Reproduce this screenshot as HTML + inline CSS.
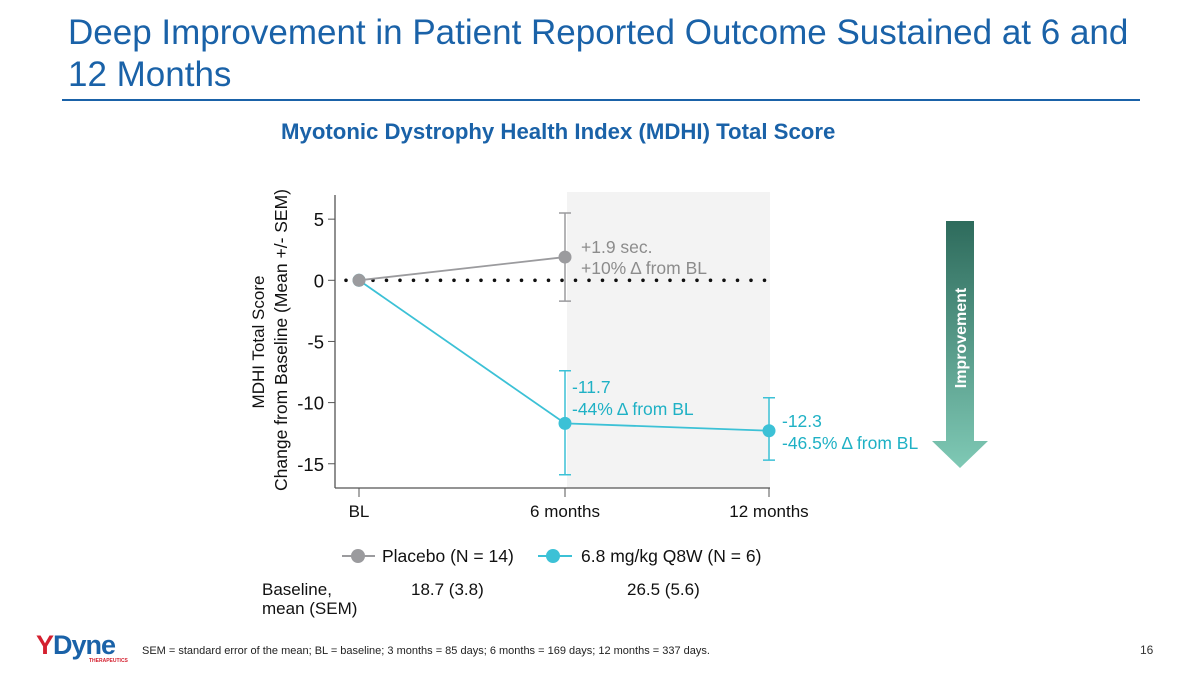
<!DOCTYPE html>
<html><head><meta charset="utf-8">
<style>
body{margin:0;width:1200px;height:675px;background:#fff;font-family:"Liberation Sans",sans-serif;overflow:hidden;position:relative}
.t{position:absolute;white-space:nowrap}
</style></head><body>
<div class="t" style="left:68px;top:12px;font-size:35px;line-height:42px;color:#1a62a8">Deep Improvement in Patient Reported Outcome Sustained at 6 and<br>12 Months</div>
<div style="position:absolute;left:62px;top:99px;width:1078px;height:2px;background:#1a62a8"></div>
<div class="t" style="left:281px;top:119px;font-size:22.2px;font-weight:bold;color:#1a62a8">Myotonic Dystrophy Health Index (MDHI) Total Score</div>
<svg width="1200" height="675" style="position:absolute;left:0;top:0" id="c"></svg>
<div class="t" style="left:262px;top:580px;font-size:17px;line-height:19px;color:#111">Baseline,<br>mean (SEM)</div>
<div class="t" style="left:411px;top:580px;font-size:17px;color:#111">18.7 (3.8)</div>
<div class="t" style="left:627px;top:580px;font-size:17px;color:#111">26.5 (5.6)</div>
<div class="t" style="left:36px;top:630px;font-size:27px;font-weight:bold;color:#1a62a8;letter-spacing:-1px"><span style="color:#d4202f">Y</span>Dyne<div style="font-size:5px;color:#d4202f;position:absolute;left:53px;top:28px;letter-spacing:0">THERAPEUTICS</div></div>
<div class="t" style="left:142px;top:645px;font-size:11px;color:#222">SEM = standard error of the mean; BL = baseline; 3 months = 85 days; 6 months = 169 days; 12 months = 337 days.</div>
<div class="t" style="left:1140px;top:643px;font-size:12px;color:#333">16</div>
<script>
const categories=["BL","6 months","12 months"];
const placeboMean=[0,1.9];
const placeboLo=[null,-1.7];
const placeboHi=[null,5.5];
const treatMean=[0,-11.7,-12.3];
const treatLo=[null,-15.9,-14.7];
const treatHi=[null,-7.4,-9.6];
const yTicks=[5,0,-5,-10,-15];
const NS="http://www.w3.org/2000/svg";
const svg=document.getElementById('c');
const xs=[359,565,769];
function X(i){return xs[i];}
function Y(v){return 280.3-12.23*v;}
function el(tag,attrs,txt){const e=document.createElementNS(NS,tag);for(const k in attrs)e.setAttribute(k,attrs[k]);if(txt!==undefined)e.textContent=txt;svg.appendChild(e);return e;}
let e;
e=el('rect',{x:567,y:192,width:203,height:296,fill:'#f3f3f3'});


e=el('line',{x1:335,y1:195,x2:335,y2:488,stroke:'#555','stroke-width':1.3});


e=el('line',{x1:335,y1:488,x2:770,y2:488,stroke:'#555','stroke-width':1.3});


yTicks.forEach(v=>{
 e=el('line',{x1:335,y1:Y(v),x2:328,y2:Y(v),stroke:'#555'});
 
 
 e=el('text',{x:324,y:Y(v)+7,'text-anchor':'end','font-size':18.5,fill:'#111'},String(v));
 
 
});
categories.forEach((c,i)=>{
 e=el('line',{x1:X(i),y1:488,x2:X(i),y2:497,stroke:'#555'});
 
 
 e=el('text',{x:X(i),y:517,'text-anchor':'middle','font-size':17,fill:'#111'},c);
 
 
});
e=el('text',{transform:'translate(264,342) rotate(-90)','text-anchor':'middle','font-size':17,fill:'#111'},'MDHI Total  Score');


e=el('text',{transform:'translate(287,340) rotate(-90)','text-anchor':'middle','font-size':17.5,fill:'#111'},'Change from Baseline (Mean +/-  SEM)');


e=el('line',{x1:346,y1:Y(0),x2:770,y2:Y(0),stroke:'#111','stroke-width':3.6,'stroke-dasharray':'0 13.5','stroke-linecap':'round'});


function series(mean,lo,hi,color,name){
 const pts=mean.map((v,i)=>X(i)+','+Y(v)).join(' ');
 e=el('polyline',{points:pts,fill:'none',stroke:color,'stroke-width':1.8});
 
 
 mean.forEach((v,i)=>{
  if(lo[i]!=null){
   e=el('path',{d:`M${X(i)},${Y(hi[i])}V${Y(lo[i])}M${X(i)-6},${Y(hi[i])}h12M${X(i)-6},${Y(lo[i])}h12`,stroke:color,'stroke-width':1.5,fill:'none'});
   
   
  }
  e=el('circle',{cx:X(i),cy:Y(v),r:6.5,fill:color});
  
  
 });
}
series(treatMean,treatLo,treatHi,'#3cc1d6','treatment');
series(placeboMean,placeboLo,placeboHi,'#9b9b9e','placebo');
function lab(x,y,t,c,n,fs){e=el('text',{x:x,y:y,'font-size':fs||17.5,fill:c},t);}
lab(581,253,'+1.9 sec.','#8c8c8c','placebo-annotation-1');
lab(581,274,'+10% Δ from BL','#8c8c8c','placebo-annotation-2');
lab(572,393,'-11.7','#1fb1c5','treatment-6m-annotation-1');
lab(572,415,'-44% Δ from BL','#1fb1c5','treatment-6m-annotation-2');
lab(782,427,'-12.3','#1fb1c5','treatment-12m-annotation-1');
lab(782,449,'-46.5% Δ from BL','#1fb1c5','treatment-12m-annotation-2');
// legend
e=el('line',{x1:342,y1:556,x2:375,y2:556,stroke:'#9b9b9e','stroke-width':2});


e=el('circle',{cx:358,cy:556,r:7,fill:'#9b9b9e'});


lab(382,562,'Placebo (N = 14)','#111','legend-placebo',17.5);
e=el('line',{x1:538,y1:556,x2:572,y2:556,stroke:'#3cc1d6','stroke-width':2});


e=el('circle',{cx:553,cy:556,r:7,fill:'#3cc1d6'});


lab(581,562,'6.8 mg/kg Q8W (N = 6)','#111','legend-treatment',17.5);
// arrow
const defs=el('defs',{});
defs.innerHTML='<linearGradient id="g" x1="0" y1="0" x2="0" y2="1"><stop offset="0" stop-color="#2e6b5c"/><stop offset="1" stop-color="#7fc9b5"/></linearGradient>';
e=el('path',{d:'M946,221H974V441H988L960,468L932,441H946Z',fill:'url(#g)'});


e=el('text',{transform:'translate(966,338) rotate(-90)','text-anchor':'middle','font-size':16,'font-weight':'bold',fill:'#fff'},'Improvement');


</script>
</body></html>
